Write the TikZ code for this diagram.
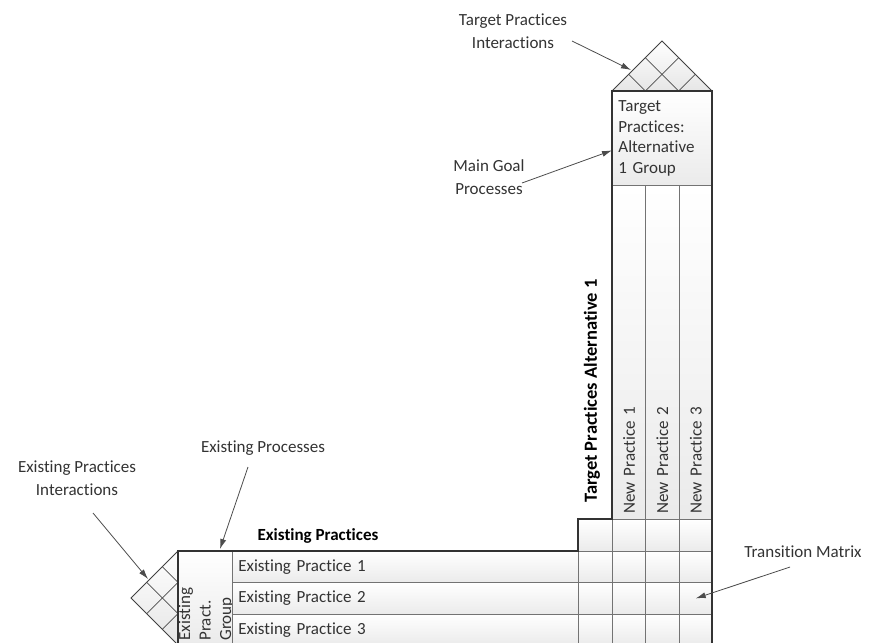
\documentclass[tikz,border=0pt]{standalone}
\usepackage{fontspec}
\setmainfont{Carlito}[Ligatures=NoCommon]
\usetikzlibrary{positioning, arrows.meta}

\begin{document}
\begin{tikzpicture}[
    x=1pt, y=-1pt,
    every node/.style={font=\fontsize{17}{20.5}\selectfont, text=black!80},
    cellbox/.style={draw=black!55, line width=0.8pt, top color=white, bottom color=black!8},
    rowbox/.style={cellbox, anchor=north west, minimum width=346pt, minimum height=31.33pt, text width=334pt, inner xsep=6pt, inner ysep=0pt, align=left},
    colbox/.style={cellbox, rotate=90, anchor=north east, minimum width=334pt, minimum height=33.33pt, text width=322pt, inner xsep=6pt, inner ysep=0pt, align=left},
    cell/.style={cellbox, anchor=north west, inner sep=0pt},
    groupbox/.style={cellbox, inner xsep=6pt, inner ysep=0pt, align=left},
    diam/.style={draw=black!75, line width=0.8pt, top color=white, bottom color=black!10},
    gridline/.style={draw=black!70, line width=0.8pt},
    outline/.style={draw=black!80, line width=1.1pt},
    heading/.style={font=\fontsize{17}{20.5}\selectfont\bfseries, text=black},
    callout/.style={align=center, inner sep=2pt, font=\fontsize{17}{23}\selectfont},
    arrow/.style={-{Latex[length=10pt, width=6pt]}, draw=black!70, line width=0.8pt}
]
\useasboundingbox (0,0) rectangle (869,642);

% interaction triangles
\draw[diam] (612,91) -- (662,41) -- (712,91) -- cycle;
\draw[diam] (178,551) -- (131,598) -- (178,645) -- cycle;
\foreach \k in {1,2} {
  \draw[gridline] (612+50*\k/3, 91-50*\k/3) -- (612+100*\k/3, 91);
  \draw[gridline] (712-50*\k/3, 91-50*\k/3) -- (712-100*\k/3, 91);
  \draw[gridline] (178-47*\k/3, 551+47*\k/3) -- (178, 551+94*\k/3);
  \draw[gridline] (178-47*\k/3, 645-47*\k/3) -- (178, 645-94*\k/3);
}

% target practices
\node[groupbox, anchor=north west, minimum width=100pt, minimum height=94pt, text width=88pt] (tg) at (612,91)
  {Target\\Practices:\\Alternative\\1 Group};
\node[colbox] (np1) at (612,185) {New Practice 1};
\node[colbox] (np2) at (645.33,185) {New Practice 2};
\node[colbox] (np3) at (678.67,185) {New Practice 3};

% existing practices
\node[groupbox, rotate=90, anchor=north east, minimum width=94pt, minimum height=54pt, text width=84pt, inner xsep=5pt] (eg) at (178,551)
  {Existing\\Pract.\\Group};
\node[rowbox] (ep1) at (232,551) {Existing Practice 1};
\node[rowbox] (ep2) at (232,582.33) {Existing Practice 2};
\node[rowbox] (ep3) at (232,613.67) {Existing Practice 3};

% transition matrix
\foreach \c/\xa/\w in {0/578/34, 1/612/33.33, 2/645.33/33.33, 3/678.67/33.33}
  \foreach \r/\ya/\h in {0/519/32, 1/551/31.33, 2/582.33/31.33, 3/613.67/31.33}
    \node[cell, minimum width=\w pt, minimum height=\h pt] (m\r\c) at (\xa,\ya) {};

\draw[outline] (178,645) -- (178,551) -- (578,551) -- (578,519) -- (612,519) -- (612,91) -- (712,91) -- (712,645);

% headings
\node[heading] (eph) at (318,536) {Existing Practices};
\node[heading, rotate=90, font=\fontsize{18.5}{22}\selectfont\bfseries] (tph) at (592,391) {Target Practices Alternative 1};

% callouts
\node[callout] (tpi) at (513,31.5) {Target Practices\\Interactions};
\node[callout] (mgp) at (489,177.5) {Main Goal\\Processes};
\node[callout] (epr) at (263,448) {Existing Processes};
\node[callout] (epi) at (77,478.5) {Existing Practices\\Interactions};
\node[callout] (trm) at (803,552) {Transition Matrix};

\coordinate (tpiA) at (572,41);
\coordinate (tpiB) at (631,70);
\coordinate (mgpA) at (522,183);
\coordinate (eprA) at (248,467);
\coordinate (eprB) at (220,549);
\coordinate (epiA) at (93,513);
\coordinate (epiB) at (148,579);
\coordinate (trmA) at (790,567);

\draw[arrow] (tpiA) -- (tpiB);
\draw[arrow] (mgpA) -- ([yshift=-12pt]tg.west);
\draw[arrow] (eprA) -- (eprB);
\draw[arrow] (epiA) -- (epiB);
\draw[arrow] (trmA) -- (m23.center);
\end{tikzpicture}
\end{document}
